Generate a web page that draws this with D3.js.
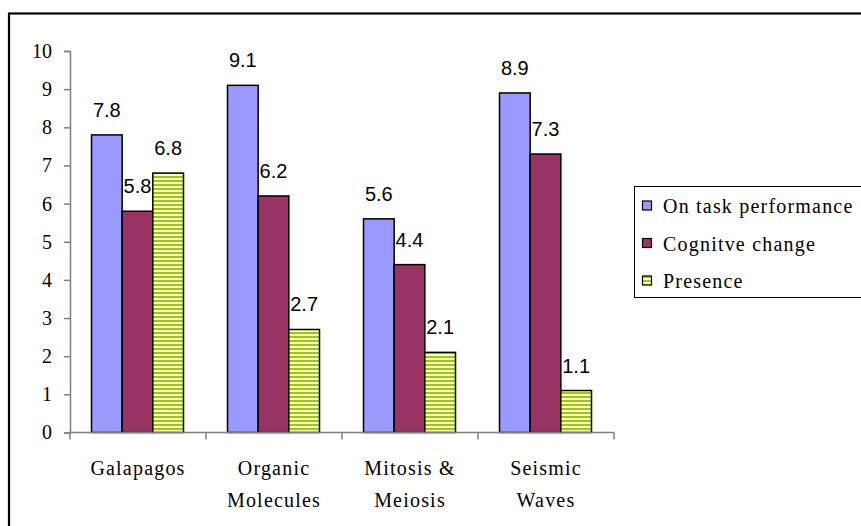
<!DOCTYPE html>
<html>
<head>
<meta charset="utf-8">
<script src="https://cdn.jsdelivr.net/npm/d3@7"></script>
<style>
  html, body { margin: 0; padding: 0; background: #fff; }
  svg { display: block; }
  .serif { font-family: "Liberation Serif", Tinos, "Times New Roman", Times, "Noto Serif", "DejaVu Serif", serif; }
  .sans { font-family: "Liberation Sans", Arimo, Arial, Helvetica, sans-serif; }
</style>
</head>
<body>
<svg id="chart" width="861" height="526"></svg>
<script>
// Scores per lesson topic, one array per measure
const categories = [["Galapagos"], ["Organic", "Molecules"], ["Mitosis &", "Meiosis"], ["Seismic", "Waves"]];
const seriesNames = ["On task performance", "Cognitve change", "Presence"];
const onTask = [7.8, 9.1, 5.6, 8.9];
const cognitive = [5.8, 6.2, 4.4, 7.3];
const presence = [6.8, 2.7, 2.1, 1.1];
const yTicks = [0, 1, 2, 3, 4, 5, 6, 7, 8, 9, 10];

const seriesValues = [onTask, cognitive, presence];
const keys = categories.map(c => c.join(" "));

const svg = d3.select("#chart");
const W = 861, H = 526;

// Outer frame (continues past the right and bottom edges)
svg.append("rect")
  .attr("x", 9).attr("y", 13.5)
  .attr("width", W + 20).attr("height", H + 20)
  .attr("fill", "none").attr("stroke", "#000").attr("stroke-width", 2.2);

// Striped fill for the third series
const defs = svg.append("defs");
const pat = defs.append("pattern")
  .attr("id", "stripes").attr("patternUnits", "userSpaceOnUse")
  .attr("width", 8).attr("height", 4);
pat.append("rect").attr("width", 8).attr("height", 4).attr("fill", "#ffffcc");
pat.append("rect").attr("width", 8).attr("height", 2).attr("fill", "#99cc00");

const fills = ["#9999ff", "#993366", "url(#stripes)"];

const plot = { left: 70, right: 614, top: 51, bottom: 432.5 };

const x0 = d3.scaleBand().domain(keys).range([plot.left, plot.right]).padding(0);
const x1 = d3.scaleBand().domain(d3.range(seriesValues.length))
  .range([21.5, x0.bandwidth() - 22.5]).padding(0);
const y = d3.scaleLinear().domain([0, 10]).range([plot.bottom, plot.top]);

// Bars
const groups = svg.append("g").selectAll("g")
  .data(keys).join("g")
  .attr("transform", d => `translate(${x0(d)},0)`);

groups.each(function(k, ci) {
  const g = d3.select(this);
  seriesValues.forEach((vals, si) => {
    const v = vals[ci];
    g.append("rect")
      .attr("x", x1(si)).attr("y", y(v))
      .attr("width", x1.bandwidth()).attr("height", y(0) - y(v))
      .attr("fill", fills[si]).attr("stroke", "#000").attr("stroke-width", 1.5);
  });
  seriesValues.forEach((vals, si) => {
    const v = vals[ci];
    g.append("text")
      .attr("class", "sans")
      .attr("x", x1(si) + x1.bandwidth() / 2)
      .attr("y", y(v) - 18)
      .attr("text-anchor", "middle")
      .attr("font-size", 20)
      .attr("fill", "#000")
      .text(v.toFixed(1));
  });
});

// Y axis
const yAxis = svg.append("g")
  .attr("transform", `translate(${plot.left},0)`)
  .call(d3.axisLeft(y).tickValues(yTicks).tickSize(6).tickPadding(12).tickFormat(d3.format("d")));
yAxis.attr("font-family", null);
yAxis.select(".domain").attr("stroke", "#808080").attr("stroke-width", 1.5);
yAxis.selectAll(".tick line").attr("stroke", "#808080").attr("stroke-width", 1.5);
yAxis.selectAll("text")
  .attr("class", "serif")
  .attr("font-size", 20).attr("fill", "#000");

// X axis: baseline with ticks at category boundaries
const xAxisG = svg.append("g");
xAxisG.append("line")
  .attr("x1", plot.left).attr("x2", plot.right)
  .attr("y1", y(0)).attr("y2", y(0))
  .attr("stroke", "#808080").attr("stroke-width", 1.5);
const bounds = keys.map(k => x0(k)).concat([x0(keys[keys.length - 1]) + x0.bandwidth()]);
xAxisG.selectAll("line.tk").data(bounds).join("line")
  .attr("class", "tk")
  .attr("x1", d => d).attr("x2", d => d)
  .attr("y1", y(0)).attr("y2", y(0) + 7)
  .attr("stroke", "#808080").attr("stroke-width", 1.5);

// Category labels (one or two lines)
categories.forEach((lines, i) => {
  const cx = x0(keys[i]) + x0.bandwidth() / 2;
  const t = svg.append("text")
    .attr("class", "serif")
    .attr("text-anchor", "middle")
    .attr("font-size", 20)
    .attr("letter-spacing", 1.2)
    .attr("fill", "#000");
  lines.forEach((ln, li) => {
    t.append("tspan").attr("x", cx).attr("y", 475 + li * 32).text(ln);
  });
});

// Legend
const legend = svg.append("g");
legend.append("rect")
  .attr("x", 634.5).attr("y", 186.5).attr("width", 260).attr("height", 111)
  .attr("fill", "#fff").attr("stroke", "#000").attr("stroke-width", 1);
seriesNames.forEach((name, i) => {
  const cy = 206 + i * 37.5;
  legend.append("rect")
    .attr("x", 642.5).attr("y", cy - 5).attr("width", 9).attr("height", 9)
    .attr("fill", fills[i]).attr("stroke", "#000").attr("stroke-width", 1.2);
  legend.append("text")
    .attr("class", "serif")
    .attr("x", 663).attr("y", cy + 7)
    .attr("font-size", 20)
    .attr("letter-spacing", 1.2)
    .attr("fill", "#000")
    .text(name);
});
</script>
</body>
</html>
